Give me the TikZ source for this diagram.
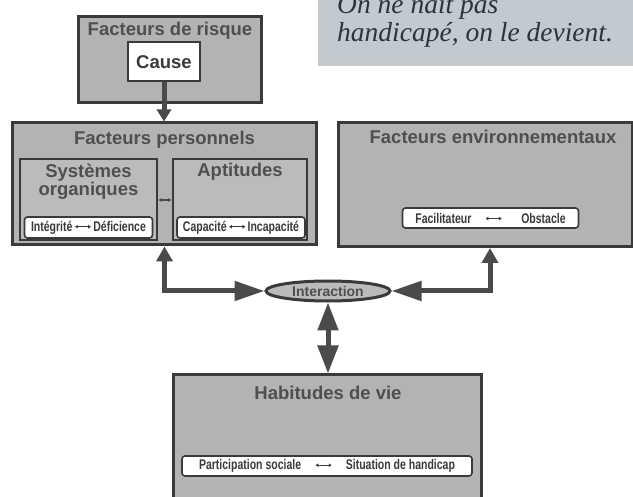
\documentclass[tikz,border=0pt]{standalone}
\usepackage{fontspec}
\usepackage{graphicx}
\setmainfont{Liberation Sans}
\newfontfamily\quotefont{Liberation Serif}
\usetikzlibrary{arrows.meta,shapes.geometric}
\definecolor{boxgray}{HTML}{B3B3B3}
\definecolor{innergray}{HTML}{BBBBBB}
\definecolor{titlegray}{HTML}{4F4F4F}
\definecolor{borderdark}{HTML}{3A3A3A}
\definecolor{arrowgray}{HTML}{4A4A4A}
\definecolor{quotebg}{HTML}{C3CACF}
\definecolor{quotetext}{HTML}{2E3338}
\newcommand{\dblarr}{\tikz[baseline=-0.6ex]\draw[{Latex[length=4pt,width=4pt]}-{Latex[length=4pt,width=4pt]},line width=1.2pt] (0,0)--(22pt,0);}
\tikzset{
  bigbox/.style={draw=borderdark, fill=boxgray, line width=3pt, inner sep=0pt},
  innerbox/.style={draw=borderdark, fill=innergray, line width=2pt, inner sep=0pt},
  whitebox/.style={draw=borderdark, fill=white, line width=2pt, inner sep=0pt},
  titletext/.style={text=titlegray, font=\bfseries\fontsize{18.5}{20}\selectfont, inner sep=0pt},
  tagbox/.style={draw=borderdark, fill=white, line width=1.6pt, rounded corners=3pt, inner sep=0pt, font=\bfseries\fontsize{14}{15}\selectfont, text=borderdark},
  fatarrow/.style={draw=arrowgray, line width=5pt},
  tipA/.tip={Triangle[length=30pt,width=19pt]},
  qtext/.style={font=\quotefont\itshape\fontsize{27.5}{30}\selectfont, text=quotetext, inner sep=0pt}
}
\begin{document}
\begin{tikzpicture}[x=1pt,y=-1pt]
\useasboundingbox (0,0) rectangle (633,497);
% quote
\fill[quotebg] (318,-5) rectangle (640,66);
\node[qtext, anchor=base west] (q1) at (337,14) {On ne naît pas};
\node[qtext, anchor=base west] (q2) at (337,42) {handicapé, on le devient.};
% risk factors
\node[bigbox, minimum width=183, minimum height=86] (risk) at (170,59.5) {};
\node[titletext] (risktitle) at (170,31) {Facteurs de risque};
\node[whitebox, minimum width=72, minimum height=39, font=\bfseries\fontsize{18.5}{20}\selectfont, text=borderdark] (cause) at (164,62) {Cause};
% personal factors
\node[bigbox, minimum width=304, minimum height=122] (perso) at (164.5,184) {};
\node[titletext] (persotitle) at (164.5,140) {Facteurs personnels};
\node[innerbox, minimum width=137, minimum height=81] (sys) at (88.5,199.5) {};
\node[titletext, anchor=base] (systitle1) at (88.5,178) {Systèmes};
\node[titletext, anchor=base] (systitle2) at (88.5,196) {organiques};
\node[tagbox, minimum width=128, minimum height=21] (systag) at (88.5,227.5) {\scalebox{0.75}[1]{Intégrité\,\dblarr\,Déficience}};
\node[innerbox, minimum width=134, minimum height=81] (apt) at (240,199.5) {};
\node[titletext] (apttitle) at (240,172) {Aptitudes};
\node[tagbox, minimum width=128, minimum height=21] (apttag) at (241,227.5) {\scalebox{0.75}[1]{Capacité\,\dblarr\,Incapacité}};
\draw[arrowgray, line width=1.5pt, {Latex[length=4pt,width=4pt]}-{Latex[length=4pt,width=4pt]}] (sys.east |- 0,200) -- (apt.west |- 0,200);
% environmental factors
\node[bigbox, minimum width=294, minimum height=124] (env) at (485,184.5) {};
\node[titletext] (envtitle) at (493,137) {Facteurs environnementaux};
\node[tagbox, minimum width=176, minimum height=20] (envtag) at (490.5,218) {\scalebox{0.75}[1]{Facilitateur\hspace{1.3em}\dblarr\hspace{1.8em}Obstacle}};
% interaction
\node[ellipse, draw=borderdark, fill=innergray, line width=3pt, minimum width=124, minimum height=20, inner sep=0pt, font=\bfseries\fontsize{14}{15}\selectfont, text=titlegray] (inter) at (328,291) {Interaction};
% life habits
\node[bigbox, minimum width=308, minimum height=130] (hab) at (327,440) {};
\node[titletext] (habtitle) at (328,393) {Habitudes de vie};
\node[tagbox, minimum width=290, minimum height=20] (habtag) at (327,466) {\scalebox{0.75}[1]{Participation sociale\hspace{1.3em}\dblarr\hspace{1.3em}Situation de handicap}};
% arrows
\draw[fatarrow, -{tipA[length=12pt,width=14pt]}] (cause.south) -- (cause.south |- perso.north);
\draw[fatarrow, {tipA[length=15pt,width=16pt]}-{tipA}] (perso.south) |- (inter.west);
\draw[fatarrow, {tipA[length=15pt,width=16pt]}-{tipA}] (env.south -| 490,0) |- (inter.east);
\draw[fatarrow, {tipA[length=28pt,width=20pt]}-{tipA[length=28pt,width=20pt]}] (inter.south) -- (inter.south |- hab.north);
\end{tikzpicture}
\end{document}
